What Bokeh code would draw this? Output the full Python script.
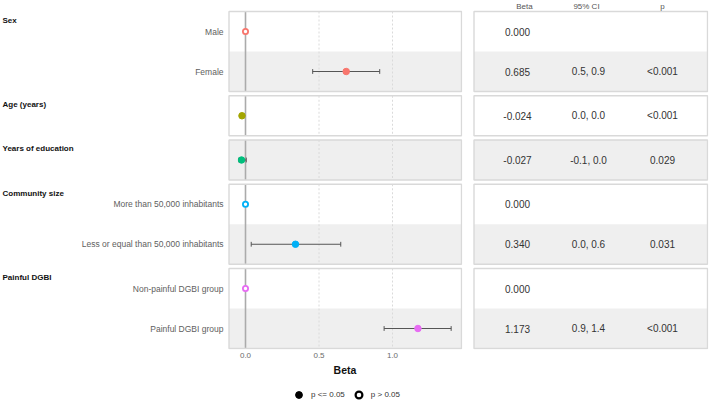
from bokeh.plotting import figure
from bokeh.layouts import row, column
from bokeh.models import (Range1d, FixedTicker, PrintfTickFormatter, Legend,
                          LegendItem, ColumnDataSource)
from bokeh.embed import file_html
from bokeh.resources import INLINE
from bokeh.core.properties import value

# ---------------- data ----------------
groups = ["Sex", "Sex", "Age (years)", "Years of education",
          "Community size", "Community size", "Painful DGBI", "Painful DGBI"]
labels = ["Male", "Female", "", "",
          "More than 50,000 inhabitants", "Less or equal than 50,000 inhabitants",
          "Non-painful DGBI group", "Painful DGBI group"]
beta = [0.0, 0.685, -0.024, -0.027, 0.0, 0.340, 0.0, 1.173]
ci_low = [None, 0.457, -0.030, -0.045, None, 0.039, None, 0.943]
ci_high = [None, 0.913, -0.018, 0.005, None, 0.648, None, 1.399]
significant = [False, True, True, True, False, True, False, True]
beta_text = ["0.000", "0.685", "-0.024", "-0.027", "0.000", "0.340", "0.000", "1.173"]
ci_text = ["", "0.5, 0.9", "0.0, 0.0", "-0.1, 0.0", "", "0.0, 0.6", "", "0.9, 1.4"]
p_text = ["", "<0.001", "<0.001", "0.029", "", "0.031", "", "<0.001"]
group_order = ["Sex", "Age (years)", "Years of education", "Community size", "Painful DGBI"]
group_colors = ["#F8766D", "#A3A500", "#00BF7D", "#00B0F6", "#E76BF3"]
x_ticks = [0.0, 0.5, 1.0]
table_headers = ["Beta", "95% CI", "p"]
legend_labels = ["p <= 0.05", "p > 0.05"]

FONT = "Liberation Sans"
ROW_H = 1.0
GAP = 0.10625
PX = 40.0  # pixels per row unit
MAIN_H = 383
TOP_PX = 11.0
BOTTOM = MAIN_H - 349

# ---------------- layout of facets ----------------
ys = []
facets = []
y = 0.0
prev = None
for g in groups:
    if prev is not None and g != prev:
        y += GAP
    if g != prev:
        facets.append([g, y, y + ROW_H])
    else:
        facets[-1][2] = y + ROW_H
    ys.append(y + ROW_H / 2)
    y += ROW_H
    prev = g
total = y
colors = [group_colors[group_order.index(g)] for g in groups]
pad = 1.0 / PX
ftop = [f[1] for f in facets]
fbot = [f[2] for f in facets]
stripe_y = [yy for i, yy in enumerate(ys) if i % 2 == 1]


def base_fig(width, height, x_range, y_range, **kw):
    f = figure(width=width, height=height, x_range=x_range, y_range=y_range,
               output_backend="svg", toolbar_location=None, **kw)
    if f.title is not None:
        f.title.text = ""
        f.title.standoff = 0
        f.title.visible = False
    f.background_fill_color = "white"
    f.border_fill_color = "white"
    f.outline_line_color = None
    f.xgrid.visible = False
    f.ygrid.visible = False
    return f


def main_yrange():
    return Range1d(total + pad, -TOP_PX / PX)


# ---------------- label column ----------------
LW = 227
lab = base_fig(LW, MAIN_H, Range1d(0, LW), main_yrange(),
               min_border_left=0, min_border_right=0, min_border_top=0,
               min_border_bottom=BOTTOM)
lab.xaxis.visible = False
lab.yaxis.visible = False
lab.text(x=[LW - 4] * len(ys), y=ys, text=labels, text_align="right",
         text_baseline="middle", text_font=value(FONT), text_font_size="8.5px",
         text_color="#5E5E5E")
lab.text(x=[2] * len(facets), y=[t_ + 0.22 for t_ in ftop], text=[f[0] for f in facets],
         text_align="left", text_baseline="middle", text_font=value(FONT),
         text_font_size="8px", text_font_style="bold", text_color="#111111")

# ---------------- forest panel ----------------
x0_px = 245.0 - LW
sc = 147.0
FW = 235
xr = Range1d((0 - x0_px) / sc, (FW - x0_px) / sc)
pan_l = (1.5 - x0_px) / sc
pan_r = (234.0 - x0_px) / sc

p = base_fig(FW + 5, MAIN_H, xr, main_yrange(),
             min_border_left=0, min_border_right=5, min_border_top=0,
             min_border_bottom=BOTTOM)

p.quad(left=pan_l, right=pan_r, top=[yy - 0.5 for yy in stripe_y],
       bottom=[yy + 0.5 for yy in stripe_y], fill_color="#EFEFEF", line_color=None)
for xt in x_ticks[1:]:
    p.segment(x0=xt, x1=xt, y0=ftop, y1=fbot, line_color="#DADADA", line_width=1,
              line_dash="2 2")
p.segment(x0=0, x1=0, y0=ftop, y1=fbot, line_color="#ABABAB", line_width=1.6)
p.quad(left=pan_l, right=pan_r, top=ftop, bottom=fbot, fill_color=None,
       line_color="#D9D9D9", line_width=1.4)

eb = [(l, h, yy) for l, h, yy in zip(ci_low, ci_high, ys) if l is not None]
elo = [e[0] for e in eb]
ehi = [e[1] for e in eb]
ey = [e[2] for e in eb]
p.segment(x0=elo, x1=ehi, y0=ey, y1=ey, line_color="#555555", line_width=1)
cap = 0.06
p.segment(x0=elo, x1=elo, y0=[v - cap for v in ey], y1=[v + cap for v in ey],
          line_color="#555555", line_width=1)
p.segment(x0=ehi, x1=ehi, y0=[v - cap for v in ey], y1=[v + cap for v in ey],
          line_color="#555555", line_width=1)

sig_src = ColumnDataSource(dict(
    x=[b for b, s in zip(beta, significant) if s],
    y=[yy for yy, s in zip(ys, significant) if s],
    c=[c for c, s in zip(colors, significant) if s]))
ns_src = ColumnDataSource(dict(
    x=[b for b, s in zip(beta, significant) if not s],
    y=[yy for yy, s in zip(ys, significant) if not s],
    c=[c for c, s in zip(colors, significant) if not s]))
p.scatter(x="x", y="y", source=sig_src, size=6.5, fill_color="c", line_color="c")
p.scatter(x="x", y="y", source=ns_src, size=5.2, fill_color="white", line_color="c",
          line_width=1.8)

p.yaxis.visible = False
p.xaxis.ticker = FixedTicker(ticks=x_ticks)
p.xaxis.formatter = PrintfTickFormatter(format="%.1f")
p.xaxis.axis_line_color = None
p.xaxis.major_tick_line_color = None
p.xaxis.minor_tick_line_color = None
p.xaxis.major_tick_out = 0
p.xaxis.major_tick_in = 0
p.xaxis.minor_tick_out = 0
p.xaxis.major_label_text_font = FONT
p.xaxis.major_label_text_font_size = "8px"
p.xaxis.major_label_text_color = "#6B6B6B"
p.xaxis.major_label_standoff = 3
p.xaxis.axis_label = "Beta"
p.xaxis.axis_label_text_font = FONT
p.xaxis.axis_label_text_font_size = "10.5px"
p.xaxis.axis_label_text_font_style = "bold"
p.xaxis.axis_label_text_color = "#111111"
p.xaxis.axis_label_standoff = 3

# ---------------- table panel ----------------
t = base_fig(242, MAIN_H, Range1d(0, 236), main_yrange(),
             min_border_left=5, min_border_right=1, min_border_top=0,
             min_border_bottom=BOTTOM)
t.xaxis.visible = False
t.yaxis.visible = False

t.quad(left=1.5, right=235, top=[yy - 0.5 for yy in stripe_y],
       bottom=[yy + 0.5 for yy in stripe_y], fill_color="#EFEFEF", line_color=None)
t.quad(left=1.5, right=235, top=ftop, bottom=fbot, fill_color=None,
       line_color="#D9D9D9", line_width=1.4)

col_x = [45, 116, 190]
head_x = [52, 114, 190]
t.text(x=head_x, y=[-0.125] * 3, text=table_headers, text_align="center",
       text_baseline="middle", text_font=value(FONT), text_font_size="8px",
       text_color="#555555")
for cx, vals in zip(col_x, [beta_text, ci_text, p_text]):
    t.text(x=[cx] * len(ys), y=ys, text=vals, text_align="center", text_baseline="middle",
           text_font=value(FONT), text_font_size="10px", text_color="#333333")

# ---------------- legend strip ----------------
LH = 403 - MAIN_H
lg = base_fig(709, LH, Range1d(0, 709), Range1d(0, LH), min_border_left=0,
              min_border_right=0, min_border_top=0, min_border_bottom=0)
lg.xaxis.visible = False
lg.yaxis.visible = False
r1 = lg.scatter(x=[-1000], y=[-1000], size=8, fill_color="black", line_color="black")
r2 = lg.scatter(x=[-1000], y=[-1000], size=6.5, fill_color="white", line_color="black",
                line_width=2.2)
leg = Legend(items=[LegendItem(label=legend_labels[0], renderers=[r1]),
                    LegendItem(label=legend_labels[1], renderers=[r2])],
             orientation="horizontal", location=(290, 0), padding=0, margin=0,
             glyph_width=17, glyph_height=17, label_standoff=4, spacing=5,
             label_text_font=FONT, label_text_font_size="8px", label_text_color="#333333",
             border_line_color=None, background_fill_alpha=0)
lg.add_layout(leg, "center")

layout = column(row(lab, p, t), lg)
open("out.html", "w").write(file_html(layout, INLINE))
